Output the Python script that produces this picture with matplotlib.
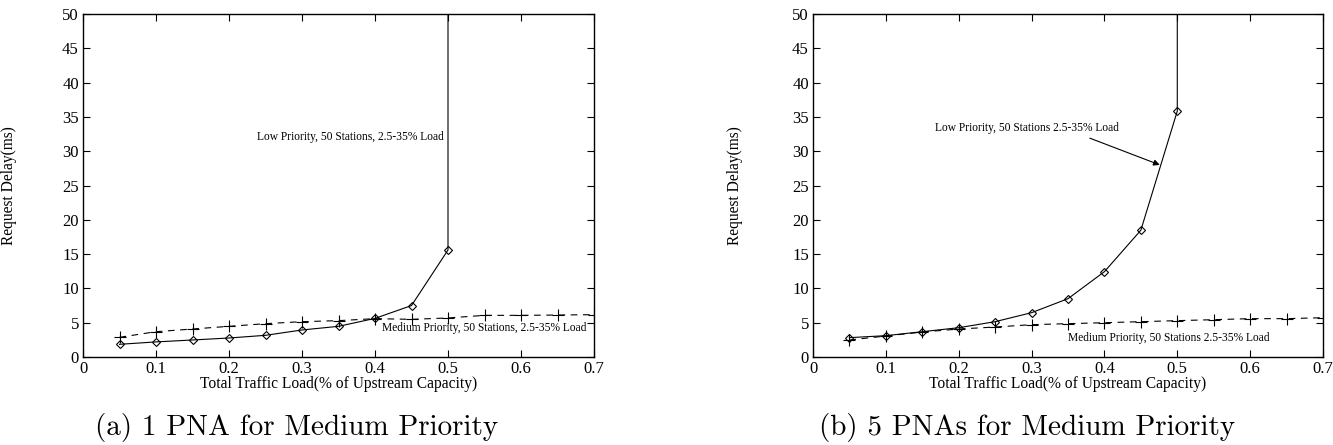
import matplotlib
matplotlib.use("Agg")
import matplotlib.pyplot as plt

# traffic load (fraction of upstream capacity)
load = [0.05, 0.1, 0.15, 0.2, 0.25, 0.3, 0.35, 0.4, 0.45, 0.5, 0.55, 0.6, 0.65, 0.7]

# (a) 1 PNA for medium priority
low_load_a = [0.05, 0.1, 0.15, 0.2, 0.25, 0.3, 0.35, 0.4, 0.45, 0.5, 0.5]
low_delay_a = [1.85, 2.2, 2.48, 2.77, 3.16, 3.94, 4.47, 5.63, 7.5, 15.6, 1000]
med_delay_a = [2.87, 3.69, 4.08, 4.47, 4.86, 5.15, 5.3, 5.59, 5.49, 5.69, 6.07, 6.07, 6.12, 6.17]

# (b) 5 PNAs for medium priority
low_load_b = [0.05, 0.1, 0.15, 0.2, 0.25, 0.3, 0.35, 0.4, 0.45, 0.5, 0.5]
low_delay_b = [2.82, 3.11, 3.69, 4.27, 5.15, 6.46, 8.5, 12.44, 18.48, 35.85, 1000]
med_delay_b = [2.48, 3.06, 3.64, 4.08, 4.37, 4.71, 4.86, 5.0, 5.15, 5.3, 5.44, 5.59, 5.59, 5.73]

x_ticks = [0, 0.1, 0.2, 0.3, 0.4, 0.5, 0.6, 0.7]
x_tick_labels = ["0", "0.1", "0.2", "0.3", "0.4", "0.5", "0.6", "0.7"]
y_ticks = [0, 5, 10, 15, 20, 25, 30, 35, 40, 45, 50]

SERIF = "Liberation Serif"


def setup_axes(ax, ylabel_x):
    ax.set_xlim(0, 0.7)
    ax.set_ylim(0, 50)
    ax.set_xticks(x_ticks)
    ax.set_xticklabels(x_tick_labels)
    ax.set_yticks(y_ticks)
    ax.tick_params(direction="in", length=5, width=0.8, top=True, right=True,
                   labelsize=12, pad=3)
    for lab in ax.get_xticklabels() + ax.get_yticklabels():
        lab.set_fontfamily(SERIF)
    for sp in ax.spines.values():
        sp.set_linewidth(1.0)
    ax.set_xlabel("Total Traffic Load(% of Upstream Capacity)", fontfamily=SERIF,
                  fontsize=11.2, labelpad=-1)
    ax.set_ylabel("Request Delay(ms)", fontfamily=SERIF, fontsize=11.2)
    ax.yaxis.set_label_coords(ylabel_x, 0.5)


def plot_series(ax, low_x, low_y, med_y):
    ax.plot(low_x, low_y, color="black", lw=0.8, marker="D", markersize=4.2,
            markerfacecolor="none", markeredgewidth=0.8, clip_on=True)
    ax.plot(load, med_y, color="black", lw=0.8, dashes=(6, 5), marker="+",
            markersize=8, markeredgewidth=0.8, clip_on=True)


fig = plt.figure(figsize=(13.33, 4.45), dpi=100)
ax1 = fig.add_axes([83 / 1333, 88 / 445, 511 / 1333, 343 / 445])
ax2 = fig.add_axes([813 / 1333, 88 / 445, 510 / 1333, 343 / 445])

plot_series(ax1, low_load_a, low_delay_a, med_delay_a)
setup_axes(ax1, -0.129)
ax1.text(0.4945, 32.1, "Low Priority, 50 Stations, 2.5-35% Load", fontfamily=SERIF,
         fontsize=8.3, ha="right", va="center")
ax1.text(0.409, 4.27, "Medium Priority, 50 Stations, 2.5-35% Load", fontfamily=SERIF,
         fontsize=8.3, ha="left", va="center")

plot_series(ax2, low_load_b, low_delay_b, med_delay_b)
setup_axes(ax2, -0.137)
ax2.text(0.167, 33.4, "Low Priority, 50 Stations 2.5-35% Load", fontfamily=SERIF,
         fontsize=8.3, ha="left", va="center")
ax2.annotate("", xy=(0.476, 28.0), xytext=(0.38, 31.9),
             arrowprops=dict(arrowstyle="-|>", color="black", lw=0.8,
                             mutation_scale=9, shrinkA=0, shrinkB=0))
ax2.text(0.35, 2.75, "Medium Priority, 50 Stations 2.5-35% Load", fontfamily=SERIF,
         fontsize=8.3, ha="left", va="center")

fig.text(297 / 1333, 18 / 445, "(a) 1 PNA for Medium Priority", fontfamily="cmr10",
         fontsize=21, ha="center", va="center")
fig.text(1027 / 1333, 18 / 445, "(b) 5 PNAs for Medium Priority", fontfamily="cmr10",
         fontsize=21, ha="center", va="center")

fig.savefig("out.png", dpi=100)
